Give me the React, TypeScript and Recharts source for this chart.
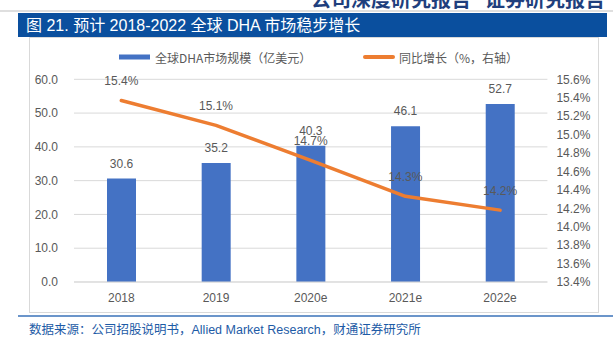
import React from 'react';
import {
    ComposedChart,
    Bar,
    Line,
    XAxis,
    YAxis,
    CartesianGrid,
    LabelList,
} from 'recharts';

const years = ['2018', '2019', '2020e', '2021e', '2022e'];
const marketSize = [30.6, 35.2, 40.3, 46.1, 52.7];
const yoyGrowth = [15.37, 15.1, 14.72, 14.33, 14.18];
const leftTicks = [0, 10, 20, 30, 40, 50, 60];
const rightTicks = [13.4, 13.6, 13.8, 14.0, 14.2, 14.4, 14.6, 14.8, 15.0, 15.2, 15.4, 15.6];

const data = years.map((year, i) => ({
    year,
    size: marketSize[i],
    growth: yoyGrowth[i],
}));

const NUM_FONT = '"Liberation Sans", Arial, sans-serif';
const CJK_FONT = '"Liberation Sans", "Noto Sans CJK SC", sans-serif';
const GRAY = '#595959';
const BLUE = '#4472C4';
const ORANGE = '#ED7D31';

function Decorations() {
    return (
        <svg width={613} height={351} style={{ position: 'absolute', left: 0, top: 0 }}>
            {/* page header, cut off at the top */}
            <text x={311} y={-1.5} dominantBaseline="central" fontSize={20} fontWeight="bold"
                fill="#1f3f7d" fontFamily='"Noto Sans CJK SC", sans-serif'>公司深度研究报告</text>
            <text x={485} y={-1.5} dominantBaseline="central" fontSize={20} fontWeight="bold"
                fill="#1f3f7d" fontFamily='"Noto Sans CJK SC", sans-serif'>证券研究报告</text>
            <line x1={0} x2={613} y1={11} y2={11} stroke="#bfbfbf" strokeWidth={1} />

            {/* title bar */}
            <rect x={18} y={13} width={589} height={24} fill="#0a4f9e" />
            <text x={26} y={25} dominantBaseline="central" fontSize={16} fill="#ffffff"
                fontFamily={CJK_FONT}>图 21. 预计 2018-2022 全球 DHA 市场稳步增长</text>

            {/* chart frame */}
            <rect x={29.5} y={37.5} width={569} height={275} fill="none" stroke="#d9d9d9" />

            {/* legend */}
            <rect x={119} y={54.5} width={31} height={5} fill={BLUE} />
            <text x={155} y={57} dominantBaseline="central" fontSize={12} fill={GRAY}
                fontFamily='"Noto Sans CJK SC", sans-serif'>全球DHA市场规模（亿美元）</text>
            <line x1={365} x2={393} y1={57} y2={57} stroke={ORANGE} strokeWidth={4} strokeLinecap="round" />
            <text x={399} y={57} dominantBaseline="central" fontSize={12} fill={GRAY}
                fontFamily='"Noto Sans CJK SC", sans-serif'>同比增长（%，右轴）</text>

            {/* footer */}
            <line x1={18} x2={613} y1={316} y2={316} stroke="#3a72b8" strokeWidth={1.5} />
            <text x={29} y={330} dominantBaseline="central" fontSize={12.5} fill="#1d5ba6"
                fontFamily={CJK_FONT}>数据来源：公司招股说明书，Allied Market Research，财通证券研究所</text>
        </svg>
    );
}

export default function App() {
    const tickStyle = { fontSize: 12, fill: GRAY, fontFamily: NUM_FONT };

    return (
        <div
            style={{
                position: 'absolute',
                left: 0,
                top: 0,
                width: 613,
                height: 351,
                overflow: 'hidden',
                background: '#ffffff',
            }}
        >
            <Decorations />
            <div style={{ position: 'absolute', left: 0, top: 0 }}>
                <ComposedChart
                    width={613}
                    height={320}
                    data={data}
                    margin={{ top: 79.3, right: 0, left: 0, bottom: 8 }}
                >
                    <CartesianGrid yAxisId="left" vertical={false} stroke="#d9d9d9" />
                    <XAxis
                        dataKey="year"
                        height={30}
                        tick={tickStyle}
                        tickLine={false}
                        axisLine={{ stroke: '#d9d9d9' }}
                        tickSize={0}
                        tickMargin={11}
                        interval={0}
                    />
                    <YAxis
                        yAxisId="left"
                        width={74}
                        domain={[0, 60]}
                        ticks={leftTicks}
                        interval={0}
                        tick={tickStyle}
                        tickFormatter={(v: number) => v.toFixed(1)}
                        tickLine={false}
                        axisLine={false}
                        tickSize={0}
                        tickMargin={16}
                    />
                    <YAxis
                        yAxisId="right"
                        orientation="right"
                        width={65.6}
                        domain={[13.4, 15.6]}
                        ticks={rightTicks}
                        interval={0}
                        tick={tickStyle}
                        tickFormatter={(v: number) => `${v.toFixed(1)}%`}
                        tickLine={false}
                        axisLine={false}
                        tickSize={0}
                        tickMargin={9}
                    />
                    <Bar
                        yAxisId="left"
                        dataKey="size"
                        fill={BLUE}
                        barSize={29}
                        isAnimationActive={false}
                    >
                        <LabelList
                            dataKey="size"
                            position="top"
                            offset={11}
                            fill={GRAY}
                            fontSize={12}
                            fontFamily={NUM_FONT}
                            formatter={(v: number) => v.toFixed(1)}
                        />
                    </Bar>
                    <Line
                        yAxisId="right"
                        dataKey="growth"
                        type="linear"
                        stroke={ORANGE}
                        strokeWidth={3.5}
                        strokeLinecap="round"
                        strokeLinejoin="round"
                        dot={false}
                        activeDot={false}
                        isAnimationActive={false}
                    >
                        <LabelList
                            dataKey="growth"
                            position="top"
                            offset={15}
                            fill={GRAY}
                            fontSize={12}
                            fontFamily={NUM_FONT}
                            formatter={(v: number) => `${v.toFixed(1)}%`}
                        />
                    </Line>
                </ComposedChart>
            </div>
        </div>
    );
}
